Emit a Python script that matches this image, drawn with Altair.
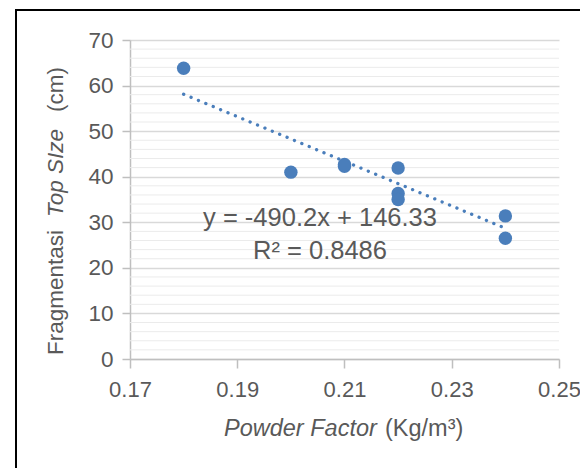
import altair as alt
import pandas as pd

# ---- data ----
powder_factor = [0.18, 0.20, 0.21, 0.21, 0.22, 0.22, 0.22, 0.24, 0.24]
top_size = [63.8, 41.0, 42.3, 42.7, 41.9, 36.3, 35.0, 31.4, 26.5]
trend_x = [0.18, 0.24]
slope = -490.2
intercept = 146.33
eq_text = "y = -490.2x + 146.33"
r2_text = "R² = 0.8486"
x_ticks = [0.17, 0.19, 0.21, 0.23, 0.25]
y_ticks = [0, 10, 20, 30, 40, 50, 60, 70]
minor_grid = [v for v in range(0, 71, 2) if v % 10]

FONT = "Liberation Sans"
TXT = "#595959"
AX = "#bfbfbf"
BLUE = "#4a7ebb"

pts = pd.DataFrame({"x": powder_factor, "y": top_size})
trend = pd.DataFrame({"x": trend_x})
minor = pd.DataFrame({"y": minor_grid})
one = pd.DataFrame({"k": [0]})

x_scale = alt.Scale(domain=[0.17, 0.25], nice=False, zero=False)
y_scale = alt.Scale(domain=[0, 70], nice=False, zero=True)

x_axis = alt.Axis(values=x_ticks, format=".2f", title=None, grid=False,
                  domainColor=AX, tickColor=AX, domainWidth=1.5, tickWidth=1.5,
                  tickSize=9, labelFontSize=22, labelColor=TXT, labelFont=FONT,
                  labelPadding=11, labelFlush=False, labelBound=False)
y_axis = alt.Axis(values=y_ticks, title=None, grid=True, gridColor="#d9d9d9",
                  gridWidth=1.5, domainColor=AX, tickColor=AX, domainWidth=1.5,
                  tickWidth=1.5, tickSize=8, labelFontSize=22.5, labelColor=TXT,
                  labelFont=FONT, labelPadding=9, labelFlush=False)

X = alt.X("x:Q", scale=x_scale, axis=x_axis)
Y = alt.Y("y:Q", scale=y_scale, axis=y_axis)

border = alt.Chart(one).mark_rect(fill="white", fillOpacity=0, stroke="black",
                                  strokeWidth=2).encode(
    x=alt.value(-114), x2=alt.value(500), y=alt.value(-30), y2=alt.value(460)
)

minor_layer = alt.Chart(minor).mark_rule(color="#ebebeb", strokeWidth=1).encode(y=Y)

trend_layer = alt.Chart(trend).transform_calculate(
    y=f"{intercept} + ({slope}) * datum.x"
).mark_line(color=BLUE, strokeWidth=3.3, strokeCap="round",
            strokeDash=[0.1, 7.9]).encode(x=X, y=Y)

points = alt.Chart(pts).mark_circle(size=180, color=BLUE, opacity=1).encode(x=X, y=Y)

def label(text, x, y, size, italic=False, align="left", angle=0):
    kw = dict(text=text, font=FONT, fontSize=size, color=TXT, align=align,
              baseline="alphabetic")
    if italic:
        kw["fontStyle"] = "italic"
    if angle:
        kw["angle"] = angle
    return alt.Chart(one).mark_text(**kw).encode(x=alt.value(x), y=alt.value(y))

eq1 = label(eq_text, 190, 186, 25.5, align="center")
eq2 = label(r2_text, 190, 219, 25.5, align="center")

xt1 = label("Powder Factor", 94, 396, 23.5, italic=True)
xt2 = label("(Kg/m³)", 255, 396, 23.5)

yt1 = label("Fragmentasi", -67, 315, 22.5, angle=270)
yt2 = label("Top SIze", -67, 177, 22.5, italic=True, angle=270)
yt3 = label("(cm)", -67, 72, 22.5, angle=270)

chart = alt.layer(
    border, minor_layer, trend_layer, points, eq1, eq2, xt1, xt2, yt1, yt2, yt3
).properties(
    width=429, height=319,
    autosize=alt.AutoSizeParams(type="none"),
    padding={"left": 122, "top": 32, "right": 21, "bottom": 110},
    background="white",
).configure_view(stroke=None)

chart.save("out.html", embed_options={"renderer": "svg", "actions": False})
